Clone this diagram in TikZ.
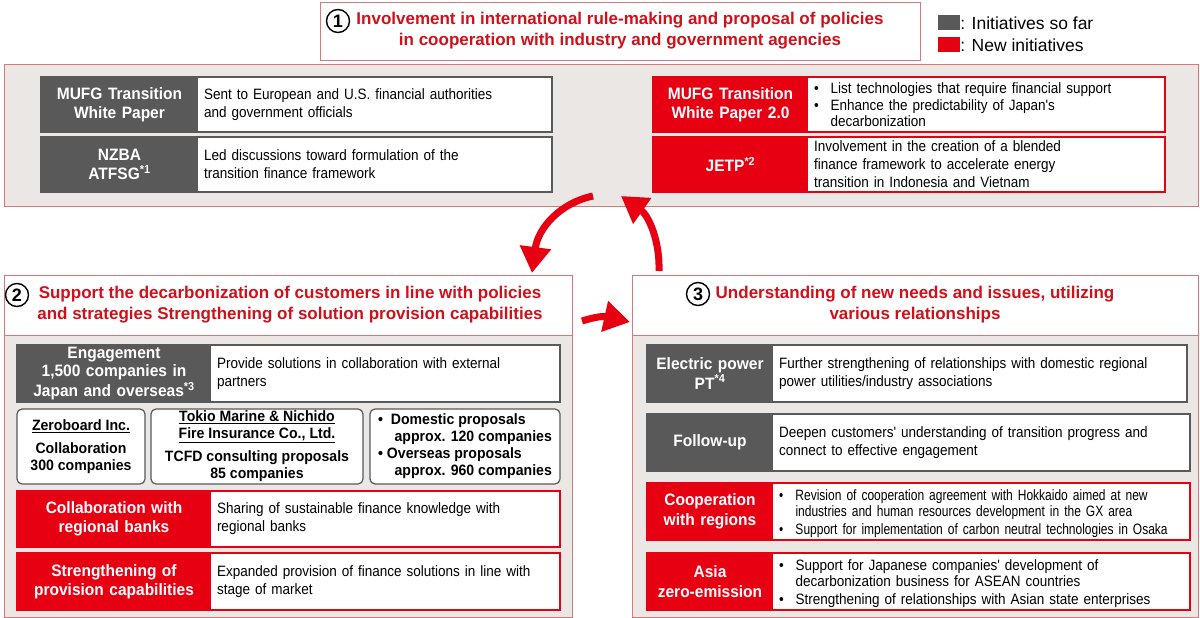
\documentclass[tikz,border=0pt]{standalone}
\usepackage{fontspec}
\setmainfont{Liberation Sans}
\newfontfamily\condf[FakeStretch=0.9]{Liberation Sans}
\newfontfamily\ccondf[FakeStretch=0.8]{Liberation Sans}
\newfontfamily\lcondf[FakeStretch=0.94]{Liberation Sans}
\usetikzlibrary{arrows.meta}
\definecolor{mred}{HTML}{E60012}
\definecolor{mgray}{HTML}{595959}
\definecolor{pfill}{HTML}{EBE7E4}
\definecolor{pline}{HTML}{D9777A}
\definecolor{tred}{HTML}{D0101A}
\newcommand\bodyf{\condf\fontsize{15}{18}\selectfont\hyphenpenalty=10000\exhyphenpenalty=10000}
\newcommand\labf{\lcondf\fontsize{16.5}{19.5}\selectfont\bfseries}
\newcommand\bul[1]{\par\noindent\makebox[1.1em][l]{\textbullet}\parbox[t]{\dimexpr\linewidth-1.1em}{\raggedright #1\strut}\par}
\newcommand\Row[9]{%
 \node[lbl, fill=#7, minimum width={(#3-#2)*1pt}, minimum height={(#6-#5)*1pt}, text width={(#3-#2-6)*1pt}] (#1l) at ({(#2+#3)/2},{-(#5+#6)/2}) {#8};
 \fill[white] (#3,-#5) rectangle (#4,-#6);
 \node[tbox, text width={(#4-#3-12)*1pt}] (#1t) at ({(#3+#4)/2},{-(#5+#6)/2}) {#9};
 \draw[#7, line width=1.3pt] (#2,-#5) rectangle (#4,-#6);}
\begin{document}
\begin{tikzpicture}[x=1pt,y=1pt,
 lbl/.style={inner sep=0pt, align=center, text=white, font=\labf, draw=none},
 tbox/.style={inner xsep=6pt, inner ysep=0pt, align=left, font=\bodyf},
 panel/.style={fill=pfill, draw=pline, line width=1.2pt},
 head/.style={fill=white, draw=pline, line width=1.2pt},
 ttl/.style={text=tred, font=\fontsize{17}{21}\selectfont\bfseries, align=center, inner sep=0pt},
 num/.style={circle, draw=black, line width=1.4pt, inner sep=0pt, minimum size=23pt, font=\fontsize{18}{18}\selectfont\bfseries},
 rbox/.style={fill=white, draw=mgray, line width=1.2pt, rounded corners=5pt, align=center, font=\lcondf\fontsize{15}{17}\selectfont\bfseries, inner sep=0pt},
 bigarrow/.style={mred, line width=7pt, -{Triangle[length=26pt,width=30pt]}}]
\useasboundingbox (0,0) rectangle (1200,-618);
% ---- header 1
\node[head, minimum width=600pt, minimum height=58pt, anchor=north west] (h1) at (320,-2) {};
\node[num] (n1) at (338,-21) {1};
\node[ttl] (t1) at (620,-31) {Involvement in international rule-making and proposal of policies\\in cooperation with industry and government agencies};
% legend
\node[fill=mgray, minimum width=22pt, minimum height=15pt, inner sep=0pt] (lg1) at (949,-23) {};
\node[anchor=west, font=\fontsize{17.5}{17.5}\selectfont, inner sep=0pt] (lgt1) at (lg1.east) {: Initiatives so far};
\node[fill=mred, minimum width=22pt, minimum height=15pt, inner sep=0pt] (lg2) at (949,-45) {};
\node[anchor=west, font=\fontsize{17.5}{17.5}\selectfont, inner sep=0pt] (lgt2) at (lg2.east) {: New initiatives};
% ---- panel 1
\node[panel, minimum width=1194pt, minimum height=142pt, anchor=north west] (p1) at (4,-64) {};
\Row{a}{41}{198}{552}{77}{132}{mgray}{MUFG Transition\\White Paper}{Sent to European and U.S. financial authorities\\and government officials}
\Row{b}{41}{198}{552}{137}{192}{mgray}{NZBA\\ATFSG\textsuperscript{*1}}{Led discussions toward formulation of the\\transition finance framework}
\Row{c}{653}{808}{1165}{77}{132}{mred}{MUFG Transition\\White Paper 2.0}{\fontsize{15}{16.5}\selectfont\bul{List technologies that require financial support}\bul{Enhance the predictability of Japan's\\decarbonization}}
\Row{d}{653}{808}{1165}{137}{192}{mred}{JETP\textsuperscript{*2}}{Involvement in the creation of a blended\\finance framework to accelerate energy\\transition in Indonesia and Vietnam}
% ---- panel 2
\node[panel, minimum width=568pt, minimum height=282pt, anchor=north west] (p2) at (4,-335) {};
\node[head, minimum width=568pt, minimum height=60pt, anchor=north west] (h2) at (4,-275) {};
\node[num] (n2) at (17,-295) {2};
\node[ttl] (t2) at (290,-305) {Support the decarbonization of customers in line with policies\\and strategies Strengthening of solution provision capabilities};
\Row{e}{17}{211}{560}{345}{402}{mgray}{\fontsize{16.5}{18.5}\selectfont Engagement\\1,500 companies in\\Japan and overseas\textsuperscript{*3}}{Provide solutions in collaboration with external\\partners}
\node[rbox, minimum width=128pt, minimum height=75pt] (ra) at (81,-446.5) {\underline{Zeroboard Inc.}\\[6pt]Collaboration\\300 companies};
\node[rbox, minimum width=212pt, minimum height=75pt] (rb) at (257,-446.5) {\underline{Tokio Marine \& Nichido}\\\underline{Fire Insurance Co., Ltd.}\\[6pt]TCFD consulting proposals\\85 companies};
\node[rbox, minimum width=190pt, minimum height=75pt, align=left] (rc) at (465,-446.5) {\textbullet\ \ Domestic proposals\\\hspace{1.1em}approx. 120 companies\\\textbullet\ Overseas proposals\\\hspace{1.1em}approx. 960 companies};
\Row{f}{17}{211}{560}{491}{547}{mred}{Collaboration with\\regional banks}{Sharing of sustainable finance knowledge with\\regional banks}
\Row{g}{17}{211}{560}{553}{610}{mred}{Strengthening of\\provision capabilities}{Expanded provision of finance solutions in line with\\stage of market}
% ---- panel 3
\node[panel, minimum width=566pt, minimum height=282pt, anchor=north west] (p3) at (632,-335) {};
\node[head, minimum width=566pt, minimum height=60pt, anchor=north west] (h3) at (632,-275) {};
\node[num] (n3) at (698,-294) {3};
\node[ttl] (t3) at (915,-305) {Understanding of new needs and issues, utilizing\\various relationships};
\Row{h}{647}{773}{1187}{345}{402}{mgray}{Electric power\\PT\textsuperscript{*4}}{Further strengthening of relationships with domestic regional\\power utilities/industry associations}
\Row{i}{647}{773}{1190}{414}{471}{mgray}{Follow-up}{Deepen customers' understanding of transition progress and\\connect to effective engagement}
\Row{j}{647}{773}{1190}{483}{540}{mred}{Cooperation\\with regions}{\ccondf\fontsize{15}{16.5}\selectfont\bul{Revision of cooperation agreement with Hokkaido aimed at new\\industries and human resources development in the GX area}\bul{Support for implementation of carbon neutral technologies in Osaka}}
\Row{k}{647}{773}{1190}{553}{610}{mred}{Asia\\zero-emission}{\fontsize{15}{16.5}\selectfont\bul{Support for Japanese companies' development of\\decarbonization business for ASEAN countries}\bul{Strengthening of relationships with Asian state enterprises}}
% ---- arrows
\coordinate (a1s) at (593,-196);
\coordinate (a1e) at (532,-273);
\coordinate (a2s) at (659,-271);
\coordinate (a2e) at (621,-196);
\coordinate (a3s) at (582,-321);
\coordinate (a3e) at (630,-322);
\draw[bigarrow] (a1s) .. controls (560,-203) and (538,-228) .. (a1e);
\draw[bigarrow] (a2s) .. controls (660,-240) and (648,-215) .. (a2e);
\draw[bigarrow] (a3s) .. controls (595,-317) and (603,-316) .. (a3e);
\end{tikzpicture}
\end{document}
